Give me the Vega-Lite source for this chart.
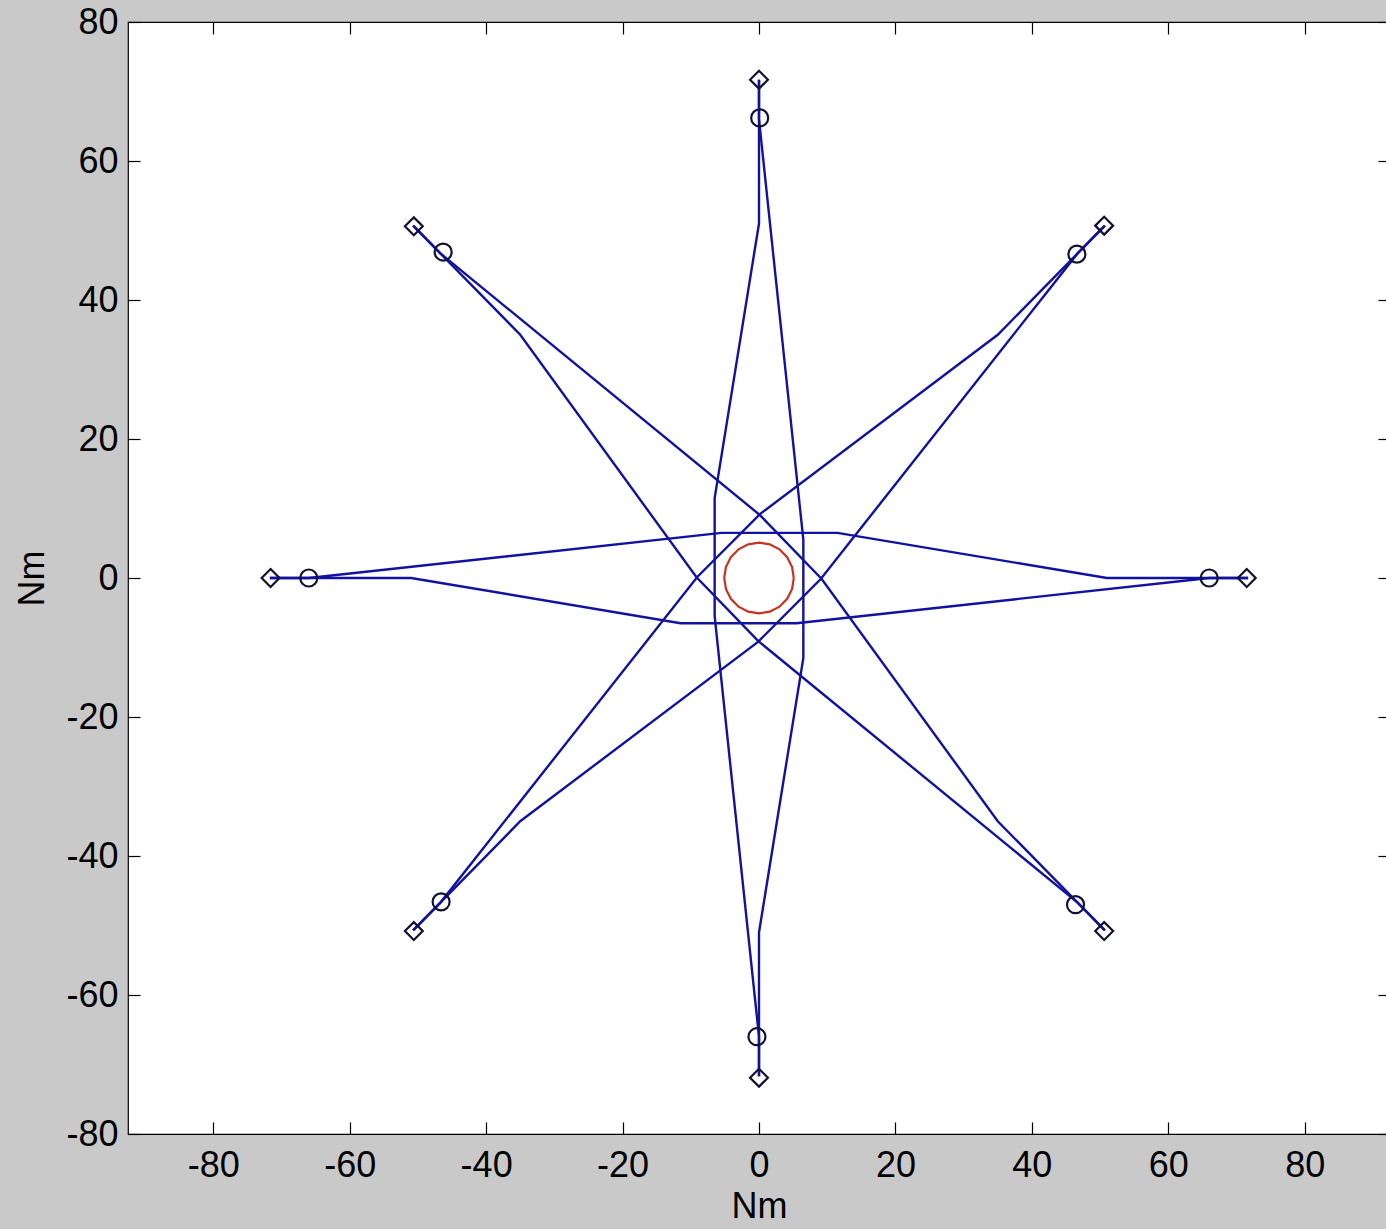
{
  "$schema": "https://vega.github.io/schema/vega-lite/v6.json",
  "width": 1262,
  "height": 1112,
  "autosize": {"type": "none"},
  "padding": {"left": 128, "top": 22, "right": 0, "bottom": 95},
  "background": "#c9c9c9",
  "config": {
    "view": {"fill": "white", "stroke": "black", "strokeWidth": 1.2},
    "axis": {
      "domain": false,
      "grid": false,
      "labelFont": "Liberation Sans",
      "labelFontSize": 36,
      "labelColor": "black",
      "titleFont": "Liberation Sans",
      "titleFontSize": 36,
      "titleFontWeight": "normal",
      "titleColor": "black",
      "tickColor": "black",
      "tickWidth": 1.2,
      "tickSize": -12,
      "labelExpr": "'' + datum.value"
    }
  },
  "datasets": {
    "paths": [
      {"id": "top", "i": 0, "x": 0, "y": 71.7}, {"id": "top", "i": 1, "x": 0, "y": 66}, {"id": "top", "i": 2, "x": 0, "y": 51}, {"id": "top", "i": 3, "x": -6.5, "y": 11.5}, {"id": "top", "i": 4, "x": -6.5, "y": -5.5}, {"id": "top", "i": 5, "x": 0, "y": -66}, {"id": "top", "i": 6, "x": 0, "y": -71.7},
      {"id": "right", "i": 0, "x": 71.7, "y": 0}, {"id": "right", "i": 1, "x": 66, "y": 0}, {"id": "right", "i": 2, "x": 51, "y": 0}, {"id": "right", "i": 3, "x": 11.5, "y": 6.5}, {"id": "right", "i": 4, "x": -5.5, "y": 6.5}, {"id": "right", "i": 5, "x": -66, "y": 0}, {"id": "right", "i": 6, "x": -71.7, "y": 0},
      {"id": "bottom", "i": 0, "x": 0, "y": -71.7}, {"id": "bottom", "i": 1, "x": 0, "y": -66}, {"id": "bottom", "i": 2, "x": 0, "y": -51}, {"id": "bottom", "i": 3, "x": 6.5, "y": -11.5}, {"id": "bottom", "i": 4, "x": 6.5, "y": 5.5}, {"id": "bottom", "i": 5, "x": 0, "y": 66}, {"id": "bottom", "i": 6, "x": 0, "y": 71.7},
      {"id": "left", "i": 0, "x": -71.7, "y": 0}, {"id": "left", "i": 1, "x": -66, "y": 0}, {"id": "left", "i": 2, "x": -51, "y": 0}, {"id": "left", "i": 3, "x": -11.5, "y": -6.5}, {"id": "left", "i": 4, "x": 5.5, "y": -6.5}, {"id": "left", "i": 5, "x": 66, "y": 0}, {"id": "left", "i": 6, "x": 71.7, "y": 0},
      {"id": "ur", "i": 0, "x": 50.7, "y": 50.7}, {"id": "ur", "i": 1, "x": 46.67, "y": 46.67}, {"id": "ur", "i": 2, "x": 35, "y": 35}, {"id": "ur", "i": 3, "x": 0.14, "y": 9.19}, {"id": "ur", "i": 4, "x": -9.05, "y": 0.14}, {"id": "ur", "i": 5, "x": -46.67, "y": -46.67}, {"id": "ur", "i": 6, "x": -50.7, "y": -50.7},
      {"id": "lr", "i": 0, "x": 50.7, "y": -50.7}, {"id": "lr", "i": 1, "x": 46.67, "y": -46.67}, {"id": "lr", "i": 2, "x": 35, "y": -35}, {"id": "lr", "i": 3, "x": 9.19, "y": -0.14}, {"id": "lr", "i": 4, "x": 0.14, "y": 9.05}, {"id": "lr", "i": 5, "x": -46.67, "y": 46.67}, {"id": "lr", "i": 6, "x": -50.7, "y": 50.7},
      {"id": "ll", "i": 0, "x": -50.7, "y": -50.7}, {"id": "ll", "i": 1, "x": -46.67, "y": -46.67}, {"id": "ll", "i": 2, "x": -35, "y": -35}, {"id": "ll", "i": 3, "x": -0.14, "y": -9.19}, {"id": "ll", "i": 4, "x": 9.05, "y": -0.14}, {"id": "ll", "i": 5, "x": 46.67, "y": 46.67}, {"id": "ll", "i": 6, "x": 50.7, "y": 50.7},
      {"id": "ul", "i": 0, "x": -50.7, "y": 50.7}, {"id": "ul", "i": 1, "x": -46.67, "y": 46.67}, {"id": "ul", "i": 2, "x": -35, "y": 35}, {"id": "ul", "i": 3, "x": -9.19, "y": 0.14}, {"id": "ul", "i": 4, "x": -0.14, "y": -9.05}, {"id": "ul", "i": 5, "x": 46.67, "y": -46.67}, {"id": "ul", "i": 6, "x": 50.7, "y": -50.7}
    ],
    "zone": [
      {"i": 0, "x": 5.1, "y": 0}, {"i": 1, "x": 4.85, "y": 1.58}, {"i": 2, "x": 4.13, "y": 3.0}, {"i": 3, "x": 3.0, "y": 4.13}, {"i": 4, "x": 1.58, "y": 4.85},
      {"i": 5, "x": 0, "y": 5.1}, {"i": 6, "x": -1.58, "y": 4.85}, {"i": 7, "x": -3.0, "y": 4.13}, {"i": 8, "x": -4.13, "y": 3.0}, {"i": 9, "x": -4.85, "y": 1.58},
      {"i": 10, "x": -5.1, "y": 0}, {"i": 11, "x": -4.85, "y": -1.58}, {"i": 12, "x": -4.13, "y": -3.0}, {"i": 13, "x": -3.0, "y": -4.13}, {"i": 14, "x": -1.58, "y": -4.85},
      {"i": 15, "x": 0, "y": -5.1}, {"i": 16, "x": 1.58, "y": -4.85}, {"i": 17, "x": 3.0, "y": -4.13}, {"i": 18, "x": 4.13, "y": -3.0}, {"i": 19, "x": 4.85, "y": -1.58},
      {"i": 20, "x": 5.1, "y": 0}
    ],
    "marks": [
      {"kind": "diamond", "x": 0, "y": 71.7}, {"kind": "diamond", "x": 50.6, "y": 50.7}, {"kind": "diamond", "x": 71.5, "y": 0}, {"kind": "diamond", "x": 50.6, "y": -50.8},
      {"kind": "diamond", "x": 0, "y": -71.9}, {"kind": "diamond", "x": -50.6, "y": -50.8}, {"kind": "diamond", "x": -71.6, "y": 0}, {"kind": "diamond", "x": -50.6, "y": 50.6},
      {"kind": "circle", "x": 0.1, "y": 66.2}, {"kind": "circle", "x": 46.6, "y": 46.6}, {"kind": "circle", "x": 66, "y": 0}, {"kind": "circle", "x": 46.4, "y": -47},
      {"kind": "circle", "x": -0.3, "y": -66}, {"kind": "circle", "x": -46.6, "y": -46.6}, {"kind": "circle", "x": -66, "y": 0}, {"kind": "circle", "x": -46.3, "y": 46.9}
    ]
  },
  "resolve": {"axis": {"x": "independent", "y": "independent"}},
  "layer": [
    {
      "data": {"name": "paths"},
      "mark": {"type": "line", "color": "#1212a0", "strokeWidth": 2.4},
      "encoding": {
        "x": {"field": "x", "type": "quantitative", "scale": {"domain": [-92.5, 92.5], "nice": false, "zero": false},
              "axis": {"orient": "bottom", "title": "Nm", "values": [-80, -60, -40, -20, 0, 20, 40, 60, 80], "labelPadding": 26, "titlePadding": 6}},
        "y": {"field": "y", "type": "quantitative", "scale": {"domain": [-80, 80], "nice": false, "zero": false},
              "axis": {"orient": "left", "title": "Nm", "values": [-80, -60, -40, -20, 0, 20, 40, 60, 80], "labelPadding": 22, "titlePadding": 14}},
        "detail": {"field": "id"},
        "order": {"field": "i", "type": "quantitative"}
      }
    },
    {
      "data": {"name": "zone"},
      "mark": {"type": "line", "color": "#c8321e", "strokeWidth": 2.2},
      "encoding": {
        "x": {"field": "x", "type": "quantitative", "axis": null},
        "y": {"field": "y", "type": "quantitative", "axis": null},
        "order": {"field": "i", "type": "quantitative"}
      }
    },
    {
      "data": {"name": "marks"},
      "mark": {"type": "point", "filled": false, "strokeWidth": 2.2, "color": "#111133", "opacity": 1},
      "encoding": {
        "x": {"field": "x", "type": "quantitative", "axis": {"orient": "top", "labels": false, "title": null, "values": [-80, -60, -40, -20, 0, 20, 40, 60, 80]}},
        "y": {"field": "y", "type": "quantitative", "axis": {"orient": "right", "labels": false, "title": null, "values": [-80, -60, -40, -20, 0, 20, 40, 60, 80]}},
        "shape": {"field": "kind", "type": "nominal", "scale": {"domain": ["diamond", "circle"], "range": ["diamond", "circle"]}, "legend": null},
        "size": {"field": "kind", "type": "nominal", "scale": {"domain": ["diamond", "circle"], "range": [320, 290]}, "legend": null}
      }
    }
  ]
}
